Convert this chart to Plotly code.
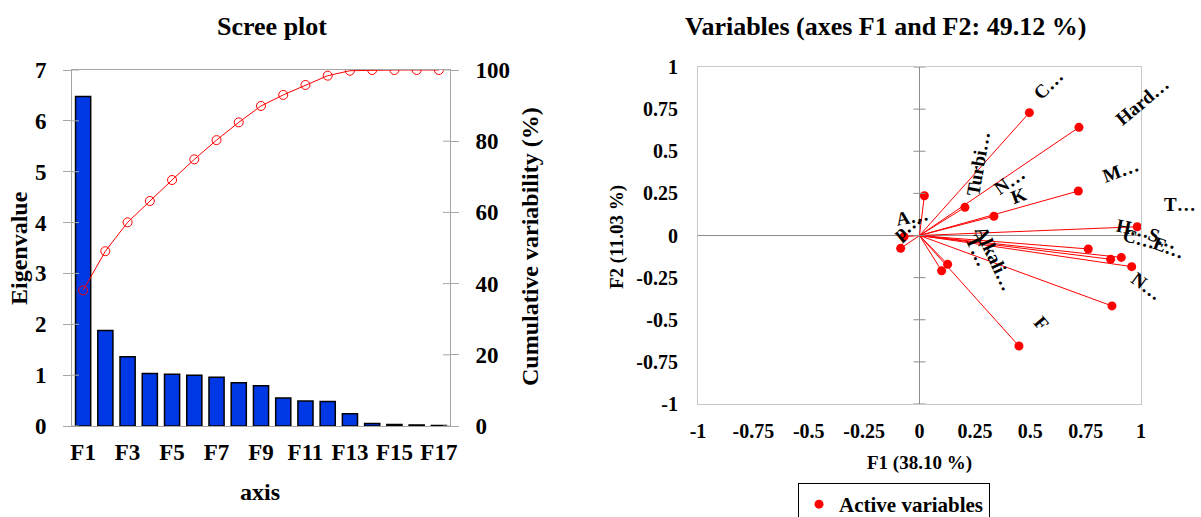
import plotly.graph_objects as go

# ---------------- data ----------------
factors = ["F1", "F2", "F3", "F4", "F5", "F6", "F7", "F8", "F9",
           "F10", "F11", "F12", "F13", "F14", "F15", "F16", "F17"]
factor_ticks = ["F1", "F3", "F5", "F7", "F9", "F11", "F13", "F15", "F17"]
eigenvalues = [6.48, 1.88, 1.36, 1.03, 1.02, 1.00, 0.96, 0.85, 0.79,
               0.55, 0.49, 0.48, 0.24, 0.05, 0.03, 0.02, 0.01]
cumulative_pct = [38.1, 49.1, 57.2, 63.2, 69.1, 74.9, 80.3, 85.3, 89.9,
                  93.0, 95.8, 98.4, 99.8, 100.0, 100.0, 100.0, 100.0]
eig_ticks = [0, 1, 2, 3, 4, 5, 6, 7]
cum_ticks = [0, 20, 40, 60, 80, 100]

var_labels = ["C…", "Hard…", "M…", "T…", "H…", "C…", "S…", "E…", "N…",
              "F", "K", "N…", "Turbi…", "A…", "p…", "T…", "Alkali…"]
var_f1 = [0.496, 0.720, 0.717, 0.983, 0.762, 0.863, 0.911, 0.958, 0.869,
          0.449, 0.336, 0.205, 0.022, -0.070, -0.085, 0.127, 0.100]
var_f2 = [0.729, 0.642, 0.264, 0.052, -0.080, -0.141, -0.130, -0.185, -0.418,
          -0.656, 0.114, 0.167, 0.236, -0.007, -0.076, -0.171, -0.209]
corr_ticks = [-1, -0.75, -0.5, -0.25, 0, 0.25, 0.5, 0.75, 1]
corr_ticktext = ["-1", "-0.75", "-0.5", "-0.25", "0", "0.25", "0.5", "0.75", "1"]

# ---------------- layout helpers (pixel placement) ----------------
W, H = 1201, 517


def px(x):
    return x / W


def py(y):
    return 1 - y / H


# label offsets from their point (pixels) and rotation
label_dx = [19, 63, 42, 43, 45, 29, 42, 37, 35, 23, 25, 45, 54, 8, 6, 30, 53]
label_dy = [28, 26, 21, 22, 20, 21, 19, 19, 19, 23, 21, 27, 32, 20, 22, 14, 12]
label_rot = [-45, -40, -20, 0, 12, 15, 20, 20, 37, 50, -20, -35, -80, -10, -40, 65, 65]

FONT = "Liberation Serif"
GRAY = "#a6a6a6"
BLUE = "#0038E6"

fig = go.Figure()

# scree bars
fig.add_trace(go.Bar(
    x=factors, y=eigenvalues, xaxis="x", yaxis="y", showlegend=False,
    marker=dict(color=BLUE, line=dict(color="black", width=1.5)),
))
# cumulative line
fig.add_trace(go.Scatter(
    x=factors, y=cumulative_pct, xaxis="x", yaxis="y2", showlegend=False,
    mode="lines+markers", line=dict(color="red", width=1),
    marker=dict(symbol="circle-open", size=9, color="red", line=dict(width=1)),
))

# vectors of the correlation circle
lx, ly = [], []
for a, b in zip(var_f1, var_f2):
    lx += [0, a, None]
    ly += [0, b, None]
fig.add_trace(go.Scatter(
    x=lx, y=ly, xaxis="x2", yaxis="y3", mode="lines", showlegend=False,
    line=dict(color="red", width=1), hoverinfo="skip",
))
fig.add_trace(go.Scatter(
    x=var_f1, y=var_f2, xaxis="x2", yaxis="y3", mode="markers",
    name="Active variables", marker=dict(color="red", size=9),
))

annotations = []
for lab, a, b, dx, dy, rot in zip(var_labels, var_f1, var_f2, label_dx, label_dy, label_rot):
    annotations.append(dict(
        text=lab, x=a, y=b, xref="x2", yref="y3", xshift=dx, yshift=dy,
        textangle=rot, showarrow=False, xanchor="center", yanchor="middle",
        font=dict(size=19, family=FONT, color="black", weight="bold"),
    ))


def txt(text, x, y, size, angle=0):
    return dict(text=text, x=px(x), y=py(y), xref="paper", yref="paper",
                showarrow=False, xanchor="center", yanchor="middle", textangle=angle,
                font=dict(size=size, family=FONT, color="black", weight="bold"))


annotations += [
    txt("Scree plot", 272, 26, 26),
    txt("Variables (axes F1 and F2: 49.12 %)", 885, 26, 26),
    txt("Eigenvalue", 19, 248, 24, -90),
    txt("Cumulative variability (%)", 530, 247, 24, -90),
    txt("axis", 260, 492, 24),
    txt("F2 (11.03 %)", 617, 237, 19, -90),
    txt("F1 (38.10 %)", 919, 463, 19),
]

shapes = []
# tick marks crossing the vertical zero line of the correlation plot
for v in corr_ticks:
    shapes.append(dict(type="line", xref="x2", yref="y3", xsizemode="pixel",
                       xanchor=0, x0=-6, x1=6, y0=v, y1=v,
                       line=dict(color="#8c8c8c", width=1)))
# inner halves of the crossing ticks on the scree plot axes
for v in eig_ticks:
    shapes.append(dict(type="line", xref="x domain", yref="y", xsizemode="pixel",
                       xanchor=0, x0=0, x1=7, y0=v, y1=v,
                       line=dict(color=GRAY, width=1)))
for v in cum_ticks:
    shapes.append(dict(type="line", xref="x domain", yref="y2", xsizemode="pixel",
                       xanchor=1, x0=-7, x1=0, y0=v, y1=v,
                       line=dict(color=GRAY, width=1)))

fig.update_layout(
    width=W, height=H, margin=dict(l=0, r=0, t=0, b=0, pad=0, autoexpand=False),
    paper_bgcolor="white", plot_bgcolor="white",
    font=dict(family=FONT, color="black", weight="bold"),
    bargap=0.32,
    showlegend=True,
    legend=dict(x=px(798), y=py(483), xanchor="left", yanchor="top",
                bordercolor="black", borderwidth=1, bgcolor="white",
                font=dict(size=21, family=FONT, color="black", weight="bold")),
    xaxis=dict(domain=[px(72), px(450)], anchor="y", type="category",
               range=[-0.5, 16.5], tickmode="array", tickvals=factor_ticks,
               ticktext=factor_ticks, showline=True, linecolor=GRAY, mirror=True,
               ticks="", showgrid=False, zeroline=False, automargin=False,
               tickfont=dict(size=23), ticklabelstandoff=5),
    yaxis=dict(domain=[py(426), py(70)], anchor="x", range=[0, 7],
               tickmode="array", tickvals=eig_ticks, showline=True, linecolor=GRAY,
               ticks="outside", ticklen=8, tickcolor=GRAY, showgrid=False,
               zeroline=False, automargin=False,
               tickfont=dict(size=23), ticklabelstandoff=12),
    yaxis2=dict(overlaying="y", side="right", anchor="x", range=[0, 100],
                tickmode="array", tickvals=cum_ticks, showline=True, linecolor=GRAY,
                ticks="outside", ticklen=8, tickcolor=GRAY, showgrid=False,
                zeroline=False, automargin=False,
                tickfont=dict(size=23), ticklabelstandoff=12),
    xaxis2=dict(domain=[px(698), px(1141)], anchor="y3", range=[-1, 1],
                tickmode="array", tickvals=corr_ticks, ticktext=corr_ticktext,
                showline=True, linecolor="#c8c8c8", mirror=True, ticks="",
                showgrid=False, zeroline=True, zerolinecolor="#8c8c8c",
                zerolinewidth=1, automargin=False,
                tickfont=dict(size=20), ticklabelstandoff=9),
    yaxis3=dict(domain=[py(404), py(67)], anchor="x2", range=[-1, 1],
                tickmode="array", tickvals=corr_ticks, ticktext=corr_ticktext,
                showline=True, linecolor="#c8c8c8", mirror=True, ticks="",
                showgrid=False, zeroline=True, zerolinecolor="#8c8c8c",
                zerolinewidth=1, automargin=False,
                tickfont=dict(size=20), ticklabelstandoff=15),
    annotations=annotations,
    shapes=shapes,
)

fig.write_html("out.html")
